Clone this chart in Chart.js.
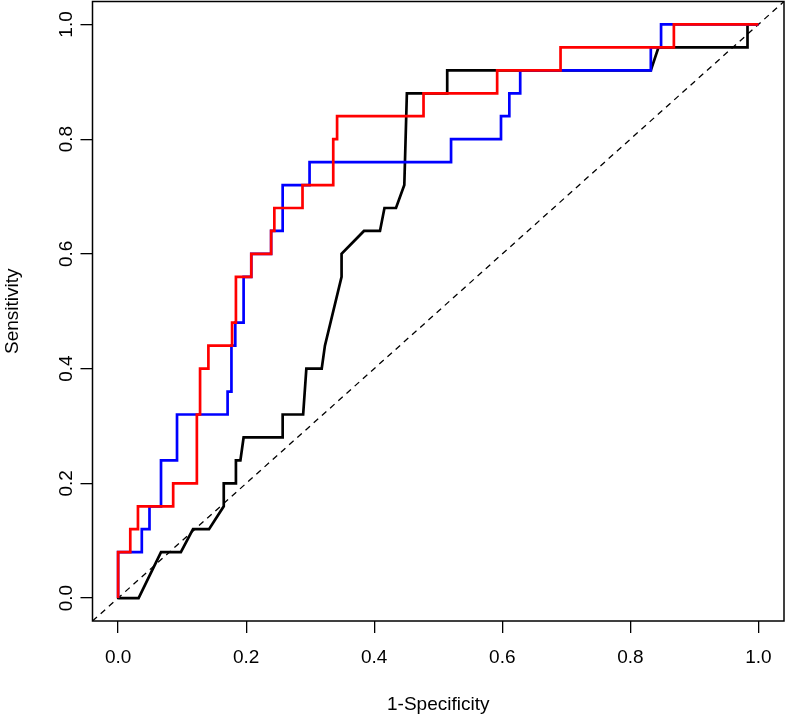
<!DOCTYPE html>
<html><head><meta charset="utf-8">
<script src="https://cdn.jsdelivr.net/npm/chart.js@4/dist/chart.umd.min.js"></script>
<style>html,body{margin:0;padding:0;background:#fff}#wrap{width:787px;height:718px;position:relative}</style>
</head><body><div id="wrap"><canvas id="c" width="787" height="718"></canvas></div>
<script>
const xTicks = [0, 0.2, 0.4, 0.6, 0.8, 1.0];
const yTicks = [0, 0.2, 0.4, 0.6, 0.8, 1.0];
const xTitle = '1-Specificity';
const yTitle = 'Sensitivity';

const redX = [0, 0, 0.019, 0.019, 0.031, 0.031, 0.086, 0.086, 0.123, 0.123, 0.128, 0.128, 0.141, 0.141, 0.178, 0.178, 0.184, 0.184, 0.208, 0.208, 0.239, 0.239, 0.244, 0.244, 0.288, 0.288, 0.336, 0.336, 0.342, 0.342, 0.477, 0.477, 0.592, 0.592, 0.691, 0.691, 0.868, 0.868, 1];
const redY = [0, 0.08, 0.08, 0.12, 0.12, 0.16, 0.16, 0.20, 0.20, 0.32, 0.32, 0.40, 0.40, 0.44, 0.44, 0.48, 0.48, 0.56, 0.56, 0.60, 0.60, 0.64, 0.64, 0.68, 0.68, 0.72, 0.72, 0.80, 0.80, 0.84, 0.84, 0.88, 0.88, 0.92, 0.92, 0.96, 0.96, 1.0, 1.0];

const blueX = [0, 0, 0.037, 0.037, 0.049, 0.049, 0.067, 0.067, 0.092, 0.092, 0.171, 0.171, 0.177, 0.177, 0.183, 0.183, 0.196, 0.196, 0.208, 0.208, 0.239, 0.239, 0.257, 0.257, 0.299, 0.299, 0.520, 0.520, 0.598, 0.598, 0.611, 0.611, 0.628, 0.628, 0.832, 0.832, 0.848, 0.848, 1];
const blueY = [0, 0.08, 0.08, 0.12, 0.12, 0.16, 0.16, 0.24, 0.24, 0.32, 0.32, 0.36, 0.36, 0.44, 0.44, 0.48, 0.48, 0.56, 0.56, 0.60, 0.60, 0.64, 0.64, 0.72, 0.72, 0.76, 0.76, 0.80, 0.80, 0.84, 0.84, 0.88, 0.88, 0.92, 0.92, 0.96, 0.96, 1.0, 1.0];

const blackX = [0, 0.032, 0.067, 0.098, 0.117, 0.142, 0.165, 0.165, 0.184, 0.184, 0.191, 0.196, 0.257, 0.257, 0.289, 0.294, 0.318, 0.323, 0.349, 0.349, 0.384, 0.409, 0.416, 0.434, 0.447, 0.451, 0.514, 0.514, 0.832, 0.844, 0.983, 0.983, 1];
const blackY = [0, 0, 0.08, 0.08, 0.12, 0.12, 0.16, 0.20, 0.20, 0.24, 0.24, 0.28, 0.28, 0.32, 0.32, 0.40, 0.40, 0.44, 0.56, 0.60, 0.64, 0.64, 0.68, 0.68, 0.72, 0.88, 0.88, 0.92, 0.92, 0.96, 0.96, 1.0, 1.0];

const refX = [-0.04, 1.04];
const refY = [-0.04, 1.04];

const pts = (xs, ys) => xs.map((x, i) => ({x: x, y: ys[i]}));
const FONT = 'Liberation Sans, Arial, Helvetica, sans-serif';

const boxPlugin = {
  id: 'box',
  afterDatasetsDraw(chart) {
    const a = chart.chartArea, ctx = chart.ctx;
    ctx.save();
    ctx.strokeStyle = '#000';
    ctx.lineWidth = 1.5;
    ctx.strokeRect(a.left, a.top, a.right - a.left, a.bottom - a.top);
    ctx.restore();
  }
};

const lineDs = (label, data, color, w, dash) => ({
  label, data, borderColor: color, backgroundColor: color, borderWidth: w,
  borderDash: dash || [], showLine: true, pointRadius: 0, pointHoverRadius: 0,
  tension: 0, fill: false
});

new Chart(document.getElementById('c'), {
  type: 'scatter',
  data: {
    datasets: [
      lineDs('red', pts(redX, redY), '#ff0000', 2.7),
      lineDs('blue', pts(blueX, blueY), '#0000ff', 2.7),
      lineDs('black', pts(blackX, blackY), '#000000', 2.7),
      lineDs('reference', pts(refX, refY), '#000000', 1.3, [6, 5])
    ]
  },
  options: {
    responsive: false,
    animation: false,
    devicePixelRatio: 1,
    layout: {padding: {left: 0, right: 3, top: 1.5, bottom: 0}},
    plugins: {legend: {display: false}, tooltip: {enabled: false}},
    scales: {
      x: {
        type: 'linear', position: 'bottom', min: -0.04, max: 1.04,
        afterBuildTicks: (s) => { s.ticks = xTicks.map(v => ({value: v})); },
        afterFit: (s) => { s.height = 97; s.paddingLeft = 0; s.paddingRight = 0; },
        grid: {drawOnChartArea: false, drawTicks: true, tickLength: 12, color: '#000', lineWidth: 1.3},
        border: {display: false},
        ticks: {color: '#000', font: {family: FONT, size: 19}, padding: 13, maxRotation: 0, callback: (v) => Number(v).toFixed(1)},
        title: {display: true, text: xTitle, color: '#000', font: {family: FONT, size: 19}, padding: {top: 0, bottom: 2}}
      },
      y: {
        type: 'linear', position: 'left', min: -0.04, max: 1.04,
        afterBuildTicks: (s) => { s.ticks = yTicks.map(v => ({value: v})); },
        afterFit: (s) => { s.width = 92.5; s.paddingTop = 0; s.paddingBottom = 0; },
        grid: {drawOnChartArea: false, drawTicks: true, tickLength: 12, color: '#000', lineWidth: 1.3},
        border: {display: false},
        ticks: {color: '#000', font: {family: FONT, size: 19}, padding: 1, minRotation: 90, maxRotation: 90, crossAlign: 'center', callback: (v) => Number(v).toFixed(1)},
        title: {display: true, text: yTitle, color: '#000', font: {family: FONT, size: 19}, padding: {top: 1, bottom: 0}}
      }
    }
  },
  plugins: [boxPlugin]
});
</script>
</body></html>
